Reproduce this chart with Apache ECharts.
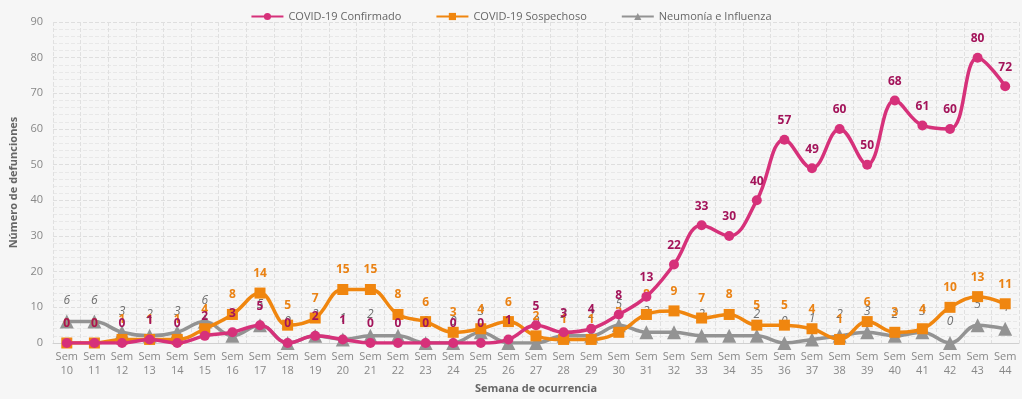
<!DOCTYPE html>
<html lang="es">
<head>
<meta charset="UTF-8" />
<title>Defunciones por semana</title>
<style>
  html, body { margin: 0; padding: 0; background: #f6f6f6; }
  #main { width: 1022px; height: 399px; }
</style>
</head>
<body>
<div id="main"></div>
<script src="https://cdn.jsdelivr.net/npm/echarts@6/dist/echarts.min.js"></script>
<script>
// semanas 10 a 44
var semanas = [];
for (var s = 10; s <= 44; s++) semanas.push("Sem\n" + s);

var confirmado = [0, 0, 0, 1, 0, 2, 3, 5, 0, 2, 1, 0, 0, 0, 0, 0, 1, 5, 3, 4, 8, 13, 22, 33, 30, 40, 57, 49, 60, 50, 68, 61, 60, 80, 72];
var sospechoso = [0, 0, 1, 1, 1, 4, 8, 14, 5, 7, 15, 15, 8, 6, 3, 4, 6, 2, 1, 1, 3, 8, 9, 7, 8, 5, 5, 4, 1, 6, 3, 4, 10, 13, 11];
var neumonia = [6, 6, 3, 2, 3, 6, 2, 5, 0, 2, 1, 2, 2, 0, 0, 3, 0, 0, 2, 2, 5, 3, 3, 2, 2, 2, 0, 1, 2, 3, 2, 3, 0, 5, 4];

var fuente = "'Open Sans', 'Noto Sans', sans-serif";

var myChart = echarts.init(document.getElementById("main"));

var option = {
  backgroundColor: "#f6f6f6",
  textStyle: { fontFamily: fuente },
  legend: {
    top: 6,
    left: "center",
    itemWidth: 32,
    itemHeight: 9,
    itemGap: 34,
    textStyle: { color: "#666", fontSize: 11 },
    data: ["COVID-19 Confirmado", "COVID-19 Sospechoso", "Neumonía e Influenza"]
  },
  grid: { left: 53, right: 3, top: 22, bottom: 55 },
  xAxis: {
    type: "category",
    data: semanas,
    boundaryGap: true,
    name: "Semana de ocurrencia",
    nameLocation: "middle",
    nameGap: 40,
    nameTextStyle: { color: "#666", fontWeight: "bold", fontSize: 11 },
    axisLine: { lineStyle: { color: "#d0d0d0" } },
    axisTick: { show: false },
    axisLabel: { color: "#888", fontSize: 11, lineHeight: 14, interval: 0, margin: 7 },
    splitLine: { show: true, lineStyle: { color: "#e0e0e0", type: "dashed" } }
  },
  yAxis: {
    type: "value",
    min: 0,
    max: 90,
    interval: 10,
    name: "Número de defunciones",
    nameLocation: "middle",
    nameGap: 22,
    nameTextStyle: { color: "#666", fontWeight: "bold", fontSize: 11 },
    axisLine: { show: false },
    axisTick: { show: false },
    axisLabel: { color: "#888", fontSize: 11, margin: 10 },
    splitLine: { lineStyle: { color: "#dedede", type: "dashed" } },
    minorTick: { show: false, splitNumber: 5 },
    minorSplitLine: { show: true, lineStyle: { color: "#e8e8e8", type: "dashed" } }
  },
  series: [
    {
      name: "COVID-19 Sospechoso",
      type: "line",
      smooth: 0.4,
      data: sospechoso,
      symbol: "rect",
      symbolSize: 11,
      z: 3,
      itemStyle: { color: "#f0860f" },
      lineStyle: { width: 3.5 },
      label: { show: true, position: "top", color: "#ea8214", fontWeight: "bold", fontSize: 12, distance: 8 }
    },
    {
      name: "Neumonía e Influenza",
      type: "line",
      smooth: 0.4,
      data: neumonia,
      symbol: "triangle",
      symbolSize: 14,
      z: 2,
      itemStyle: { color: "#939393" },
      lineStyle: { width: 3.5 },
      label: { show: true, position: "top", color: "#6f6f6f", fontStyle: "italic", fontSize: 12, distance: 8 }
    },
    {
      name: "COVID-19 Confirmado",
      type: "line",
      smooth: 0.4,
      data: confirmado,
      symbol: "circle",
      symbolSize: 10,
      z: 4,
      itemStyle: { color: "#d6317a" },
      lineStyle: { width: 3.5 },
      label: { show: true, position: "top", color: "#a3145a", fontWeight: "bold", fontSize: 12, distance: 8 }
    }
  ]
};

myChart.setOption(option);
</script>
</body>
</html>
